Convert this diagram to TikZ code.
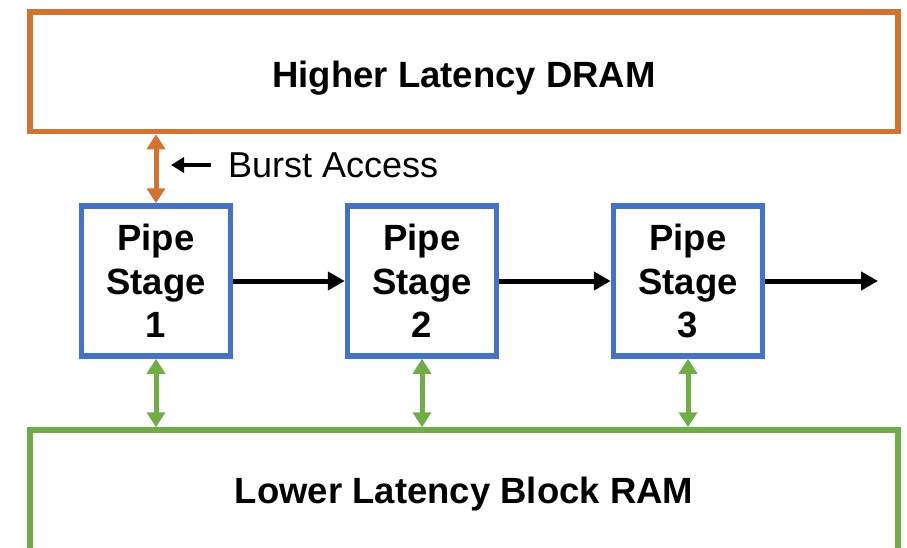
\documentclass[tikz,border=0pt]{standalone}
\usepackage{fontspec}
\setmainfont{Liberation Sans}
\usetikzlibrary{arrows.meta}
\definecolor{dramorange}{RGB}{212,115,48}
\definecolor{stageblue}{RGB}{68,114,196}
\definecolor{bramgreen}{RGB}{112,173,71}
\tikzset{
  memblock/.style={draw, line width=5.5pt, minimum width=868pt, inner sep=0pt},
  memtext/.style={anchor=base, inner sep=0pt, font=\fontsize{36.5}{43}\selectfont\bfseries},
  stagebox/.style={draw=stageblue, line width=5.5pt, minimum width=149pt,
    minimum height=150pt, inner sep=0pt, align=center,
    font=\fontsize{36.5}{43.5}\selectfont\bfseries},
  flow/.style={line width=5pt, -{Triangle[width=18pt,length=17pt]}},
  memlink/.style={line width=5pt, {Triangle[width=18pt,length=15pt]}-{Triangle[width=18pt,length=15pt]}},
}
\begin{document}
\begin{tikzpicture}[x=1pt,y=-1pt]
\useasboundingbox (0,0) rectangle (907,547);
\clip (0,0) rectangle (907,547);

% memories
\node[memblock, draw=dramorange, minimum height=119.5pt] (dram) at (464,71.75) {};
\node[memtext] (dramlabel) at (464,87) {Higher Latency DRAM};
\node[memblock, draw=bramgreen, minimum height=125pt] (bram) at (464,492.5) {};
\node[memtext] (bramlabel) at (464,503) {Lower Latency Block RAM};

% pipeline stages
\node[stagebox] (s1) at (156,281) {Pipe\\Stage\\1};
\node[stagebox] (s2) at (422,281) {Pipe\\Stage\\2};
\node[stagebox] (s3) at (688,281) {Pipe\\Stage\\3};
\coordinate (out) at (878,281);

\draw[flow] (s1) -- (s2);
\draw[flow] (s2) -- (s3);
\draw[flow] (s3) -- (out);

% DRAM burst access
\draw[memlink, dramorange] (dram.south -| s1) -- (s1.north);
\node[anchor=base west, inner sep=0pt, font=\fontsize{36}{36}\selectfont] (burst) at (228,177) {Burst Access};
\coordinate (bstart) at (211,165);
\coordinate (bend) at (171,165);
\draw[line width=4.5pt, -{Triangle[width=15pt,length=13pt]}] (bstart) -- (bend);

% block RAM ports
\draw[memlink, bramgreen] (s1.south) -- (bram.north -| s1);
\draw[memlink, bramgreen] (s2.south) -- (bram.north -| s2);
\draw[memlink, bramgreen] (s3.south) -- (bram.north -| s3);
\end{tikzpicture}
\end{document}
